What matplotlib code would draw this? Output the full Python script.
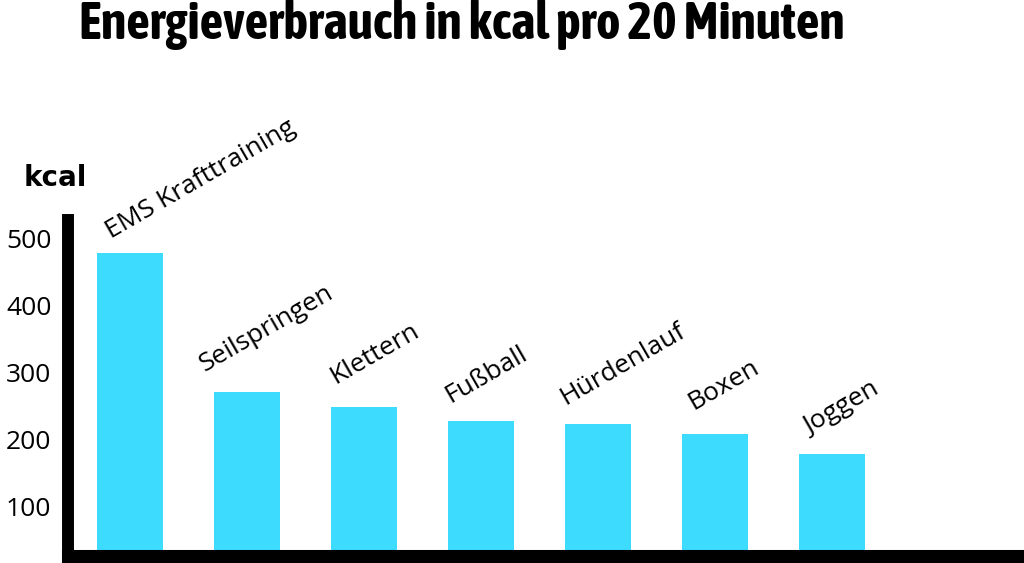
import matplotlib.pyplot as plt
from matplotlib import font_manager

# Energieverbrauch pro 20 Minuten (kcal)
sports = ['EMS Krafttraining', 'Seilspringen', 'Klettern', 'Fußball',
          'Hürdenlauf', 'Boxen', 'Joggen']
kcal = [478, 271, 249, 228, 223, 208, 179]
yticks = [100, 200, 300, 400, 500]

# label offsets in pixels (dx, dy up) from bar centre / bar top
label_offsets = [(-16, 9), (-39, 15), (-26, 17), (-28, 13), (-30, 14), (-19, 19), (-20, 14)]

BAR_COLOR = '#3ddcfe'
TITLE = 'Energieverbrauch in kcal pro 20 Minuten'


def condensed_family():
    for f in font_manager.fontManager.ttflist:
        if ('Narrow' in f.name or 'Condensed' in f.name) and f.weight in ('bold', 700, 800, 900, 'heavy', 'black'):
            return f.name
    for f in font_manager.fontManager.ttflist:
        if 'Narrow' in f.name or 'Condensed' in f.name:
            return f.name
    return 'Roboto'


def plot_energy(sports, kcal):
    fig = plt.figure(figsize=(10.24, 5.63), dpi=100)
    ax = fig.add_axes([68 / 1024, 7 / 563, 1 - 68 / 1024, (556 - 220) / 563])

    x = list(range(len(sports)))
    ax.bar(x, kcal, width=0.56, color=BAR_COLOR, zorder=1)

    ax.set_xlim(-0.53, 7.64)
    ax.set_ylim(26.8, 526.8)

    for s in ['top', 'right']:
        ax.spines[s].set_visible(False)
    ax.spines['left'].set_linewidth(8.6)
    ax.spines['bottom'].set_linewidth(9.4)
    for s in ['left', 'bottom']:
        ax.spines[s].set_zorder(3)

    ax.set_xticks([])
    ax.set_yticks(yticks)
    ax.set_yticklabels([str(t) for t in yticks], fontsize=19, family='Open Sans')
    ax.tick_params(axis='y', length=0, pad=12)

    px = 72 / 100  # pixels -> points
    for xi, name, val, (dx, dy) in zip(x, sports, kcal, label_offsets):
        ax.annotate(name, xy=(xi, val), xytext=(dx * px, dy * px), textcoords='offset points',
                    rotation=30, rotation_mode='anchor', ha='left', va='bottom',
                    fontsize=19, family='Open Sans', color='black')

    fig.text(55 / 1024, 1 - 178 / 563, 'kcal', ha='center', va='center',
             fontsize=20, fontweight='bold', family='DejaVu Sans')

    fam = condensed_family()
    title = fig.text(462 / 1024, 1 - 24 / 563, TITLE, ha='center', va='center',
                     fontsize=30, fontweight='bold', family=[fam, 'DejaVu Sans'])
    # fit to the width of the original title (about 765 px)
    r = fig.canvas.get_renderer()
    w = title.get_window_extent(r).width
    title.set_fontsize(30 * 765 / w)

    fig.savefig('out.png', dpi=100)


def main():
    plot_energy(sports, kcal)


if __name__ == "__main__":
    main()
